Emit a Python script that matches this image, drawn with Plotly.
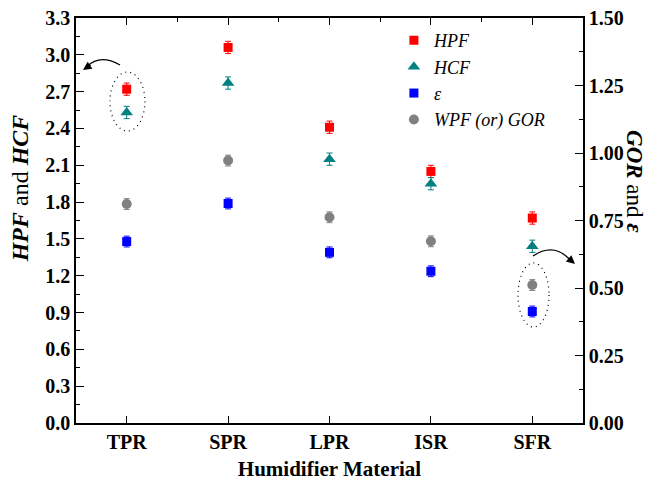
import plotly.graph_objects as go

categories = ["TPR", "SPR", "LPR", "ISR", "SFR"]
hpf = [2.72, 3.06, 2.41, 2.05, 1.67]
hpf_err = [0.05, 0.05, 0.05, 0.05, 0.05]
hcf = [2.53, 2.77, 2.15, 1.95, 1.44]
hcf_err = [0.05, 0.05, 0.05, 0.05, 0.05]
eps = [0.672, 0.813, 0.632, 0.562, 0.413]
eps_err = [0.02, 0.02, 0.02, 0.02, 0.02]
gor = [0.811, 0.972, 0.762, 0.673, 0.511]
gor_err = [0.02, 0.02, 0.02, 0.02, 0.02]

xpos = list(range(len(categories)))
FONT = "Liberation Serif"

fig = go.Figure()

def add(y, err, name, color, symbol, size, axis):
    fig.add_trace(go.Scatter(
        x=xpos, y=y, mode="markers", name=name, yaxis=axis,
        marker=dict(color=color, symbol=symbol, size=size, line=dict(width=0)),
        error_y=dict(type="data", array=err, color=color, thickness=1, width=3),
    ))

add(hpf, hpf_err, "HPF", "#FF0000", "square", 9, "y")
add(hcf, hcf_err, "HCF", "#008080", "triangle-up", 11, "y")
add(eps, eps_err, "ε", "#0000FF", "square", 9, "y2")
add(gor, gor_err, "WPF (or) GOR", "#808080", "circle", 10, "y2")

# invisible trace for top axis
fig.add_trace(go.Scatter(x=[xpos[0]], y=[hpf[0]], xaxis="x2", mode="markers",
                         marker=dict(opacity=0), showlegend=False, hoverinfo="skip"))

axis_common = dict(showline=True, linecolor="black", linewidth=1.5, ticks="inside",
                   tickcolor="black", tickwidth=1.3, showgrid=False, zeroline=False,
                   ticklabeloverflow="allow")

fig.update_layout(
    width=656, height=483,
    margin=dict(l=68, r=81, t=10, b=68, autoexpand=False),
    paper_bgcolor="white", plot_bgcolor="white",
    font=dict(family=FONT, color="black"),
    xaxis=dict(**axis_common, range=[-0.5, 4.5], tickvals=xpos, ticktext=categories,
               ticklen=7, tickfont=dict(family=FONT, size=20, weight="bold"),
               title=dict(text="Humidifier Material", standoff=10,
                          font=dict(family=FONT, size=21, weight="bold"))),
    xaxis2=dict(**axis_common, overlaying="x", side="top", anchor="y", range=[-0.5, 4.5],
                tickvals=xpos, showticklabels=False, ticklen=7,
                minor=dict(ticks="inside", dtick=0.5, tick0=0.5, ticklen=4, tickcolor="black", tickwidth=1.3)),
    yaxis=dict(**axis_common, range=[0, 3.3], dtick=0.3, tick0=0, tickformat=".1f",
               ticklen=8, tickfont=dict(family=FONT, size=20, weight="bold"),
               minor=dict(ticks="inside", dtick=0.15, ticklen=4, tickcolor="black", tickwidth=1.3)),
    yaxis2=dict(**axis_common, overlaying="y", side="right", range=[0, 1.5], dtick=0.25, tick0=0,
                tickformat=".2f", ticklen=8, tickfont=dict(family=FONT, size=20, weight="bold"),
                minor=dict(ticks="inside", dtick=0.125, ticklen=4, tickcolor="black", tickwidth=1.3)),
    legend=dict(x=0.627, y=0.99, xanchor="left", yanchor="top", bgcolor="rgba(0,0,0,0)",
                font=dict(family=FONT, size=18, style="italic"), tracegroupgap=0,
                itemwidth=30),
    showlegend=True,
)

# Axis titles as rotated annotations
fig.add_annotation(xref="paper", yref="paper", x=-0.11, y=0.58, xanchor="center", yanchor="middle",
                   text="<b><i>HPF</i></b> and <b><i>HCF</i></b>", textangle=-90, showarrow=False,
                   font=dict(family=FONT, size=24))
fig.add_annotation(xref="paper", yref="paper", x=1.1025, y=0.595, xanchor="center", yanchor="middle",
                   text="<b><i>GOR</i></b> and <b><i>ε</i></b>", textangle=90, showarrow=False,
                   font=dict(family=FONT, size=23))

# Dotted ellipses
fig.add_shape(type="circle", xref="x", yref="y", x0=-0.165, x1=0.18, y0=2.379, y1=2.86,
              line=dict(color="black", width=1.2, dash="1px,4px"))
fig.add_shape(type="circle", xref="x", yref="y", x0=3.859, x1=4.165, y0=0.782, y1=1.304,
              line=dict(color="black", width=1.2, dash="1px,4px"))

# Curved arrows
fig.add_shape(type="path", xref="x", yref="y",
              path="M -0.066,2.917 Q -0.263,3.01 -0.39,2.905",
              line=dict(color="black", width=1.3))
fig.add_annotation(xref="x", yref="y", x=-0.431, y=2.876, ax=9, ay=-6, text="",
                   showarrow=True, arrowhead=2, arrowsize=1.3, arrowwidth=1.3, arrowcolor="black")
fig.add_shape(type="path", xref="x", yref="y",
              path="M 4.007,1.361 Q 4.204,1.47 4.36,1.34",
              line=dict(color="black", width=1.3))
fig.add_annotation(xref="x", yref="y", x=4.421, y=1.296, ax=-8, ay=-7, text="",
                   showarrow=True, arrowhead=2, arrowsize=1.3, arrowwidth=1.3, arrowcolor="black")

fig.write_html("out.html")
